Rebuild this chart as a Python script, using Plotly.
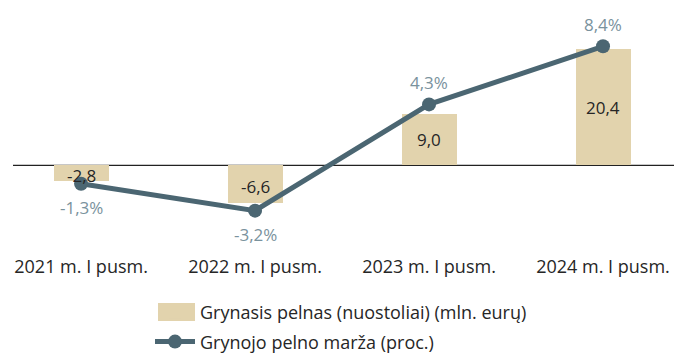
import plotly.graph_objects as go

# Half-year periods and figures
periods = ["2021 m. I pusm.", "2022 m. I pusm.", "2023 m. I pusm.", "2024 m. I pusm."]
net_profit = [-2.8, -6.6, 9.0, 20.4]      # mln. eurų
net_margin = [-1.3, -3.2, 4.3, 8.4]       # proc.

bar_name = "Grynasis pelnas (nuostoliai) (mln. eurų)"
line_name = "Grynojo pelno marža (proc.)"

BAR_COLOR = "#E2D3AD"
LINE_COLOR = "#4B6672"
PCT_COLOR = "#7A929D"
TEXT_COLOR = "#262626"
FONT = "Open Sans"

W, H, B = 686, 356, 104
PLOT_H = H - B

fig = go.Figure()

fig.add_trace(go.Bar(
    x=periods, y=net_profit, name=bar_name,
    marker=dict(color=BAR_COLOR, line=dict(width=0)),
    width=0.316, legendgroup="a", yaxis="y",
))

fig.add_trace(go.Scatter(
    x=periods, y=net_margin, name=line_name,
    mode="lines+markers",
    line=dict(color=LINE_COLOR, width=5),
    marker=dict(color=LINE_COLOR, size=14),
    legendgroup="b", yaxis="y2",
))

def fmt(v, suffix=""):
    return f"{v:.1f}".replace(".", ",") + suffix

annotations = []
# value labels centred inside each bar
for p, v in zip(periods, net_profit):
    annotations.append(dict(
        x=p, y=v / 2, xref="x", yref="y", text=fmt(v), showarrow=False,
        font=dict(family=FONT, size=17, color=TEXT_COLOR),
        yshift=(-2 if v < 0 else 0),
    ))
# margin labels above positive points, below negative ones
for p, v in zip(periods, net_margin):
    annotations.append(dict(
        x=p, y=v, xref="x", yref="y2", text=fmt(v, "%"), showarrow=False,
        font=dict(family=FONT, size=17, color=PCT_COLOR),
        yshift=(22 if v >= 0 else -24),
    ))

def py(pixel_y):
    # pixel row from the top of the page -> paper y of the plot area
    return (PLOT_H - pixel_y) / PLOT_H

shapes = [
    # zero baseline
    dict(type="line", xref="paper", yref="y", x0=13 / W, x1=674 / W, y0=0, y1=0,
         line=dict(color="#222222", width=1.3), layer="below"),
    # wide swatch for the bar legend entry
    dict(type="rect", xref="paper", yref="paper",
         x0=158 / W, x1=195 / W, y0=py(321), y1=py(303),
         fillcolor=BAR_COLOR, line=dict(width=0), layer="above"),
]

fig.update_layout(
    width=W, height=H,
    margin=dict(l=0, r=0, t=0, b=B, autoexpand=False),
    paper_bgcolor="white", plot_bgcolor="white",
    font=dict(family=FONT, size=18, color=TEXT_COLOR),
    bargap=0,
    xaxis=dict(
        range=[-0.466, 3.477], showgrid=False, zeroline=False, showline=False,
        ticks="", ticklabelstandoff=2,
        tickfont=dict(family=FONT, size=18, color=TEXT_COLOR),
    ),
    yaxis=dict(range=[-15.25, 29.08], visible=False, showgrid=False, zeroline=False),
    yaxis2=dict(range=[-6.12, 11.67], overlaying="y", visible=False,
                showgrid=False, zeroline=False),
    shapes=shapes,
    annotations=annotations,
    showlegend=True,
    legend=dict(
        x=150 / W, xanchor="left", y=py(294), yanchor="top", yref="paper",
        orientation="v", traceorder="grouped", tracegroupgap=3,
        itemwidth=40, font=dict(family=FONT, size=18, color=TEXT_COLOR),
        bgcolor="rgba(0,0,0,0)",
    ),
)

fig.write_html("out.html")
